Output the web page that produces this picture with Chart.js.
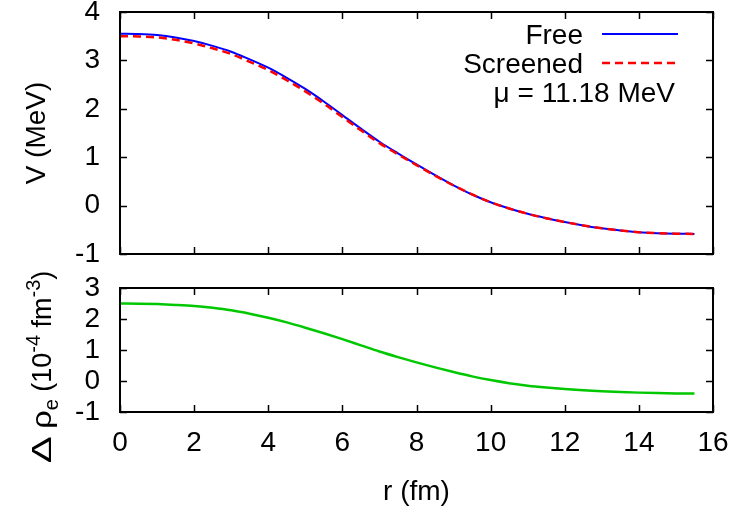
<!DOCTYPE html>
<html><head><meta charset="utf-8">
<script src="https://cdn.jsdelivr.net/npm/chart.js@4/dist/chart.umd.min.js"></script>
<style>
html,body{margin:0;padding:0;background:#fff;}
#wrap{position:relative;width:732px;height:509px;background:#fff;}
canvas{position:absolute;left:0;top:0;}
</style></head><body>
<div id="wrap"><canvas id="c1" width="732" height="509"></canvas><canvas id="c2" width="732" height="509"></canvas></div>
<script>
// ---- data ----
const rValues = [0,0.5,1,1.5,2,2.5,3,3.5,4,4.5,5,5.5,6,6.5,7,7.5,8,8.5,9,9.5,10,10.5,11,11.5,12,12.5,13,13.5,14,14.5,15,15.5];
const vFree = [3.55,3.545,3.525,3.475,3.40,3.30,3.18,3.02,2.85,2.64,2.41,2.15,1.87,1.59,1.32,1.08,0.85,0.63,0.42,0.23,0.07,-0.06,-0.17,-0.26,-0.34,-0.41,-0.47,-0.515,-0.55,-0.57,-0.58,-0.585];
const vScreened = [3.50,3.495,3.475,3.425,3.35,3.25,3.13,2.97,2.80,2.59,2.36,2.105,1.83,1.555,1.29,1.06,0.835,0.62,0.415,0.23,0.07,-0.06,-0.17,-0.26,-0.34,-0.41,-0.47,-0.515,-0.55,-0.57,-0.58,-0.585];
const deltaRho = [2.50,2.495,2.48,2.455,2.42,2.36,2.28,2.17,2.04,1.89,1.72,1.54,1.35,1.15,0.95,0.77,0.60,0.44,0.29,0.15,0.03,-0.07,-0.15,-0.21,-0.26,-0.30,-0.33,-0.355,-0.375,-0.39,-0.40,-0.405];
const xTickValues = [0,2,4,6,8,10,12,14,16];
const vTickValues = [-1,0,1,2,3,4];
const rhoTickValues = [-1,0,1,2,3];
const seriesLabels = ['Free','Screened'];
const muLabel = 'μ = 11.18 MeV';
const xTitle = 'r (fm)';
const vTitle = 'V (MeV)';
const rhoTitleParts = [['Δ','g'],[' ','n'],['ρ','g2'],['e','sub'],[' (10','n'],['-4','sup'],[' fm','n'],['-3','sup'],[')','n']];

const FONT = '"Liberation Sans", Arial, Helvetica, sans-serif';
const FS = 28;

const toPts = ys => rValues.map((r,i)=>({x:r,y:ys[i]}));

const framePlugin = {
  id:'frame',
  afterDatasetsDraw(chart, args, o){
    const {ctx, chartArea:a, scales} = chart;
    ctx.save();
    ctx.strokeStyle='#000'; ctx.lineWidth=1.5;
    ctx.beginPath();
    o.xTicks.forEach(v=>{const p=Math.round(scales.x.getPixelForValue(v))+0.5;
      ctx.moveTo(p,a.top); ctx.lineTo(p,a.top+7); ctx.moveTo(p,a.bottom); ctx.lineTo(p,a.bottom-7);});
    o.yTicks.forEach(v=>{const p=Math.round(scales.y.getPixelForValue(v))+0.5;
      ctx.moveTo(a.left,p); ctx.lineTo(a.left+7,p); ctx.moveTo(a.right,p); ctx.lineTo(a.right-7,p);});
    ctx.stroke();
    ctx.lineWidth=2;
    ctx.strokeRect(a.left,a.top,a.right-a.left,a.bottom-a.top);
    ctx.restore();
  }
};

const keyPlugin = {
  id:'key',
  afterDraw(chart, args, o){
    const ctx = chart.ctx;
    ctx.save();
    ctx.font = FS+'px '+FONT; ctx.fillStyle='#000'; ctx.textAlign='right'; ctx.textBaseline='alphabetic';
    chart.data.datasets.forEach((ds,i)=>{
      const base = o.baseY + i*o.rowH;
      ctx.fillText(ds.label, o.textRight, base);
      ctx.strokeStyle = ds.borderColor; ctx.lineWidth = ds.borderWidth;
      ctx.setLineDash(ds.borderDash||[]);
      ctx.beginPath(); ctx.moveTo(o.lineX0, base-9.5); ctx.lineTo(o.lineX1, base-9.5); ctx.stroke();
    });
    ctx.setLineDash([]);
    ctx.fillText(o.extra, o.extraRight, o.baseY + 2*o.rowH);
    ctx.restore();
  }
};

const rhoTitlePlugin = {
  id:'rhoTitle',
  afterDraw(chart, args, o){
    const ctx = chart.ctx;
    ctx.save();
    ctx.translate(o.x, o.y); ctx.rotate(-Math.PI/2);
    ctx.fillStyle='#000'; ctx.textBaseline='alphabetic'; ctx.textAlign='left';
    const style = {n:{s:27,dy:0,sx:1}, g:{s:27,dy:0,sx:1.5}, g2:{s:27,dy:0,sx:1.2}, sub:{s:20,dy:7,sx:1}, sup:{s:20,dy:-11,sx:1}};
    const parts = o.parts.map(([t,k])=>Object.assign({t}, style[k]));
    let W=0;
    parts.forEach(p=>{ctx.font=p.s+'px '+FONT; p.w=ctx.measureText(p.t).width*p.sx; W+=p.w;});
    let x=-W/2;
    parts.forEach(p=>{ctx.font=p.s+'px '+FONT;
      ctx.save(); ctx.translate(x,p.dy); ctx.scale(p.sx,1); ctx.fillText(p.t,0,0); ctx.restore();
      x+=p.w;});
    ctx.restore();
  }
};

const tickFont = {family:FONT, size:FS};

new Chart(document.getElementById('c1'), {
  type:'line',
  data:{datasets:[
    {label:seriesLabels[0], data:toPts(vFree), borderColor:'#0000ff', borderWidth:2, pointRadius:0, order:2},
    {label:seriesLabels[1], data:toPts(vScreened), borderColor:'#ff0000', borderWidth:2.5, borderDash:[8,5], pointRadius:0, order:1}
  ]},
  options:{
    responsive:false, animation:false, devicePixelRatio:1,
    layout:{padding:{top:12,right:19,bottom:255,left:0}},
    elements:{line:{tension:0.4, cubicInterpolationMode:'monotone'}},
    plugins:{legend:{display:false}, tooltip:{enabled:false},
      frame:{xTicks:xTickValues, yTicks:vTickValues},
      key:{textRight:583, baseY:43.5, rowH:29, lineX0:602, lineX1:678, extra:muLabel, extraRight:675}},
    scales:{
      x:{type:'linear', display:false, min:0, max:16},
      y:{type:'linear', min:-1, max:4,
        afterFit(s){s.width=120; s.paddingTop=0; s.paddingBottom=0;},
        afterBuildTicks(s){s.ticks=vTickValues.map(v=>({value:v}));},
        grid:{display:false, drawTicks:false}, border:{display:false},
        ticks:{padding:20, color:'#000', font:tickFont, autoSkip:false},
        title:{display:true, text:vTitle, color:'#000', font:{family:FONT,size:FS,lineHeight:1.2}, padding:{top:20,bottom:0}}}
    }
  },
  plugins:[framePlugin, keyPlugin]
});

new Chart(document.getElementById('c2'), {
  type:'line',
  data:{datasets:[
    {label:'Δρe', data:toPts(deltaRho), borderColor:'#00c800', borderWidth:2.5, pointRadius:0}
  ]},
  options:{
    responsive:false, animation:false, devicePixelRatio:1,
    layout:{padding:{top:288,right:19,bottom:0,left:0}},
    elements:{line:{tension:0.4, cubicInterpolationMode:'monotone'}},
    plugins:{legend:{display:false}, tooltip:{enabled:false},
      frame:{xTicks:xTickValues, yTicks:rhoTickValues},
      rhoTitle:{x:51, y:367, parts:rhoTitleParts}},
    scales:{
      x:{type:'linear', min:0, max:16,
        afterFit(s){s.height=97; s.paddingLeft=0; s.paddingRight=0;},
        afterBuildTicks(s){s.ticks=xTickValues.map(v=>({value:v}));},
        grid:{display:false, drawTicks:false}, border:{display:false},
        ticks:{padding:14, color:'#000', font:tickFont, maxRotation:0, autoSkip:false},
        title:{display:true, text:xTitle, color:'#000', font:{family:FONT,size:FS,lineHeight:1.2}, padding:{top:2,bottom:0}}},
      y:{type:'linear', min:-1, max:3,
        afterFit(s){s.width=120; s.paddingTop=0; s.paddingBottom=0;},
        afterBuildTicks(s){s.ticks=rhoTickValues.map(v=>({value:v}));},
        grid:{display:false, drawTicks:false}, border:{display:false},
        ticks:{padding:20, color:'#000', font:tickFont, autoSkip:false}}
    }
  },
  plugins:[framePlugin, rhoTitlePlugin]
});
</script>
</body></html>
